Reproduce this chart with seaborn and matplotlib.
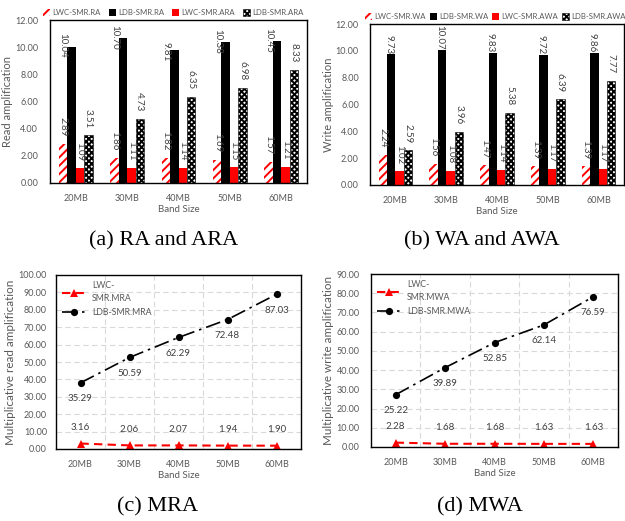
import matplotlib
matplotlib.use("Agg")
import matplotlib.pyplot as plt
import seaborn as sns
import pandas as pd
import numpy as np

# ---------------- data ----------------
bands = ["20MB", "30MB", "40MB", "50MB", "60MB"]

lwc_ra = [2.89, 1.86, 1.82, 1.69, 1.57]
ldb_ra = [10.04, 10.70, 9.81, 10.38, 10.45]
lwc_ara = [1.09, 1.11, 1.14, 1.15, 1.21]
ldb_ara = [3.51, 4.73, 6.35, 6.98, 8.33]

lwc_wa = [2.24, 1.56, 1.47, 1.39, 1.39]
ldb_wa = [9.73, 10.07, 9.83, 9.72, 9.86]
lwc_awa = [1.02, 1.08, 1.14, 1.17, 1.17]
ldb_awa = [2.59, 3.96, 5.38, 6.39, 7.77]

lwc_mra = [3.16, 2.06, 2.07, 1.94, 1.90]
ldb_mra_points = [38.0, 52.6, 64.1, 74.4, 88.9]
ldb_mra_labels = [35.29, 50.59, 62.29, 72.48, 87.03]

lwc_mwa = [2.28, 1.68, 1.68, 1.63, 1.63]
ldb_mwa_points = [27.2, 41.3, 54.3, 63.5, 78.2]
ldb_mwa_labels = [25.22, 39.89, 52.85, 62.14, 76.59]

names_a = ["LWC-SMR.RA", "LDB-SMR.RA", "LWC-SMR.ARA", "LDB-SMR.ARA"]
names_b = ["LWC-SMR.WA", "LDB-SMR.WA", "LWC-SMR.AWA", "LDB-SMR.AWA"]

# ---------------- style ----------------
sns.set_theme(style="white")
plt.rcParams["font.family"] = ["Lato", "DejaVu Sans"]
plt.rcParams["hatch.linewidth"] = 1.4
GRAY = "#595959"
DGRAY = "#404040"
TICK = 6.5

W, H = 625, 521
fig = plt.figure(figsize=(W / 100, H / 100), dpi=100)
fig.patch.set_facecolor("white")


def add_ax(left, right, top, bottom):
    return fig.add_axes([left / W, 1 - bottom / H, (right - left) / W, (bottom - top) / H])


def style_axes(ax, ymax, step, ylabel, ylab_size, ypad, ylabpad, grid=False):
    ax.set_ylim(0, ymax)
    ticks = np.arange(0, ymax + 0.001, step)
    ax.set_yticks(ticks)
    ax.set_yticklabels([f"{v:.2f}" for v in ticks])
    ax.set_xlim(-0.5, len(bands) - 0.5)
    ax.set_xticks(range(len(bands)))
    ax.set_xticklabels(bands)
    ax.tick_params(axis="both", labelsize=TICK, colors=GRAY, length=0)
    ax.tick_params(axis="y", pad=ypad)
    ax.tick_params(axis="x", pad=8)
    ax.set_xticks(np.arange(0.5, len(bands) - 0.5, 1), minor=True)
    ax.tick_params(axis="x", which="minor", direction="in", length=3, color="black")
    ax.set_yticks(ticks, minor=True)
    ax.tick_params(axis="y", which="minor", direction="in", length=3, color="black")
    for s in ax.spines.values():
        s.set_color("black")
        s.set_linewidth(1.0)
    ax.set_xlabel("Band Size", fontsize=7, color=GRAY, labelpad=1)
    ax.set_ylabel(ylabel, fontsize=ylab_size, color=GRAY, labelpad=ylabpad)
    if grid:
        ax.grid(True, which="major", axis="y", color="#d9d9d9", linestyle=(0, (5, 3)), linewidth=0.8)
        ax.grid(True, which="minor", axis="x", color="#d9d9d9", linestyle=(0, (5, 3)), linewidth=0.8)
        ax.set_axisbelow(True)


def bar_panel(ax, series, names, ldb_shift, ldb_offset, leg_loc, leg_anchor, colspace):
    df = pd.DataFrame({
        "Band": np.tile(bands, len(series)),
        "Series": np.repeat(names, len(bands)),
        "Value": np.concatenate([np.asarray(s) for s in series]),
    })
    sns.barplot(data=df, x="Band", y="Value", hue="Series", hue_order=names,
                order=bands, width=0.66, gap=0, ax=ax, errorbar=None,
                linewidth=0, saturation=1, legend=False)
    styles = [
        dict(facecolor="white", edgecolor="#ff0000", hatch="////", linewidth=0),
        dict(facecolor="black", edgecolor="black", hatch=None, linewidth=0),
        dict(facecolor="#ff0000", edgecolor="#ff0000", hatch=None, linewidth=0),
        dict(facecolor="white", edgecolor="black", hatch="xxxxxx", linewidth=0.4),
    ]
    for cont, st in zip(ax.containers, styles):
        for p in cont.patches:
            p.set_facecolor(st["facecolor"])
            p.set_edgecolor(st["edgecolor"])
            p.set_linewidth(st["linewidth"])
            if st["hatch"]:
                p.set_hatch(st["hatch"])
    for i, cont in enumerate(ax.containers):
        for p, v in zip(cont.patches, series[i]):
            bw = p.get_width()
            x = p.get_x() + bw / 2
            if i == 1:
                x -= bw * ldb_shift
                y = v + ldb_offset
            else:
                y = v + 0.55
            ax.text(x, y, f"{v:.2f}", rotation=-90, ha="center", va="bottom",
                    fontsize=7, color=DGRAY)
    handles = [cont.patches[0] for cont in ax.containers]
    leg = ax.legend(handles, names, loc=leg_loc, bbox_to_anchor=leg_anchor,
                    ncol=4, frameon=False, fontsize=5.6, handlelength=0.9, handleheight=0.9,
                    handletextpad=0.3, columnspacing=colspace, borderaxespad=0.4,
                    borderpad=0.1)
    for t in leg.get_texts():
        t.set_color(GRAY)


# ---------------- panel (a) ----------------
ax_a = add_ax(50, 307, 20, 183)
bar_panel(ax_a, [lwc_ra, ldb_ra, lwc_ara, ldb_ara], names_a, 1.0, -0.85,
          "lower center", (0.48, 1.0), 1.0)
style_axes(ax_a, 12, 2, "Read amplification", 8, 8.5, 1.5)

# ---------------- panel (b) ----------------
ax_b = add_ax(370, 624, 24, 185)
bar_panel(ax_b, [lwc_wa, ldb_wa, lwc_awa, ldb_awa], names_b, 0.3, 0.05,
          "lower left", (-0.035, 1.0), 0.5)
style_axes(ax_b, 12, 2, "Write amplification", 8, 8, 1.5)


# ---------------- line panels ----------------
def line_panel(ax, lwc, ldb_pts, ldb_lab, lwc_name, ldb_name):
    dfl = pd.DataFrame({"Band": bands, "v": lwc})
    dfd = pd.DataFrame({"Band": bands, "v": ldb_pts})
    sns.lineplot(data=dfl, x="Band", y="v", ax=ax, color="#ff0000", marker="^",
                 markersize=5.5, markeredgewidth=0, linewidth=1.5,
                 linestyle=(0, (4, 2.5)), label=lwc_name)
    sns.lineplot(data=dfd, x="Band", y="v", ax=ax, color="black", marker="o",
                 markersize=5.2, markeredgewidth=0, linewidth=1.2,
                 linestyle=(0, (9, 3, 1.5, 3)), label=ldb_name)
    for j, v in enumerate(lwc):
        ax.annotate(f"{v:.2f}", (j, v), xytext=(0, 11.5), textcoords="offset points",
                    ha="center", va="center", fontsize=7, color=DGRAY)
    for j, (v, lab) in enumerate(zip(ldb_pts, ldb_lab)):
        ax.annotate(f"{lab:.2f}", (j, v), xytext=(0, -11.5), textcoords="offset points",
                    ha="center", va="center", fontsize=7, color=DGRAY)
    leg = ax.legend(loc="upper left", frameon=False, fontsize=6.3, handlelength=2.8,
                    handletextpad=0.6, borderaxespad=0.3, labelspacing=0.5,
                    bbox_to_anchor=(0.0, 1.0))
    for t in leg.get_texts():
        t.set_color(GRAY)
        t.set_linespacing(1.6)


ax_c = add_ax(56, 301, 275, 449)
line_panel(ax_c, lwc_mra, ldb_mra_points, ldb_mra_labels, "LWC-\nSMR.MRA", "LDB-SMR.MRA")
style_axes(ax_c, 100, 10, "Multiplicative read amplification", 8.4, 6.5, 2, grid=True)

ax_d = add_ax(371, 618, 274, 447)
line_panel(ax_d, lwc_mwa, ldb_mwa_points, ldb_mwa_labels, "LWC-\nSMR.MWA", "LDB-SMR.MWA")
style_axes(ax_d, 90, 10, "Multiplicative write amplification", 8.4, 8, 2, grid=True)

# ---------------- captions ----------------
cap = dict(fontsize=16, family=["Liberation Serif", "DejaVu Serif"], color="black",
           ha="center", va="center")
fig.text(164 / W, 1 - 241 / H, "(a) RA and ARA", **cap)
fig.text(482 / W, 1 - 241 / H, "(b) WA and AWA", **cap)
fig.text(158 / W, 1 - 507 / H, "(c) MRA", **cap)
fig.text(480 / W, 1 - 507 / H, "(d) MWA", **cap)

fig.savefig("out.png", dpi=100, facecolor="white")
